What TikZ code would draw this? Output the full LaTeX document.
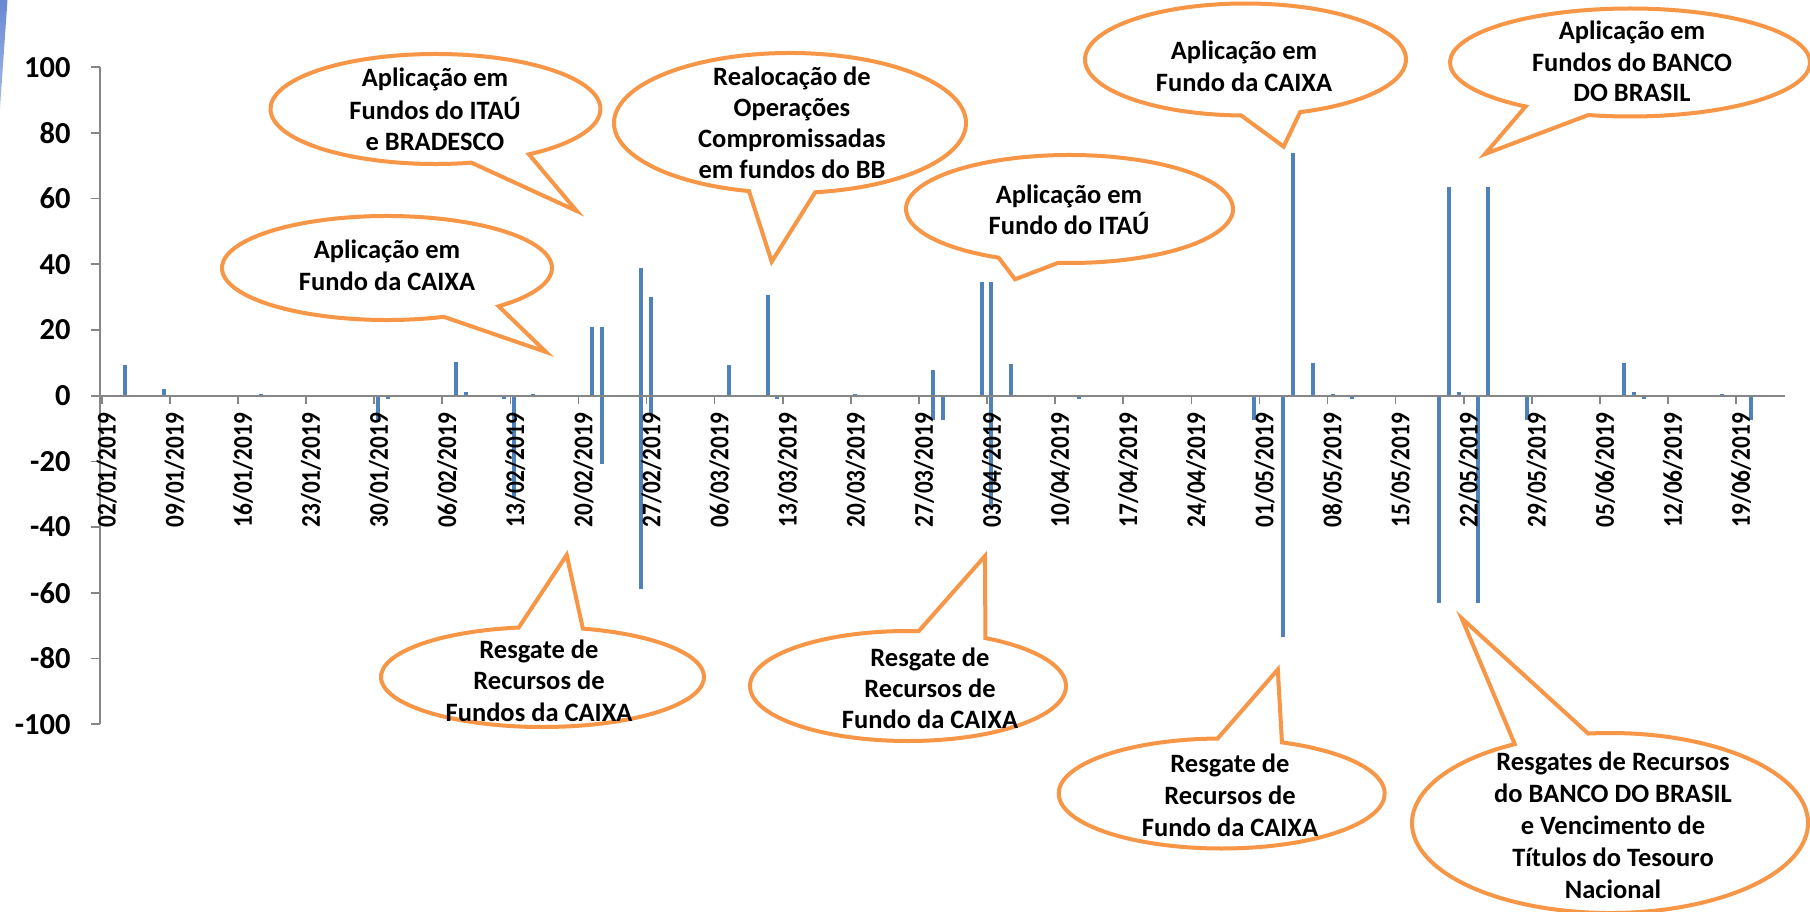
\documentclass[tikz,border=0pt]{standalone}
\usepackage{fontspec}
\setmainfont{Carlito}
\newfontfamily\datefont{Carlito}[FakeStretch=0.86]
\usetikzlibrary{calc}
\definecolor{barblue}{HTML}{4F81BD}
\definecolor{axisgray}{HTML}{868686}
\definecolor{bubbleorange}{HTML}{F79646}
\newcommand{\bubble}[9]{%
  \pgfmathsetmacro\bubA{atan2((#6-#2)/#4,(#5-#1)/#3)}%
  \pgfmathsetmacro\bubB{atan2((#8-#2)/#4,(#7-#1)/#3)}%
  \pgfmathsetmacro\bubD{mod(\bubB-\bubA+720,360)}%
  \pgfmathsetmacro\bubE{\bubD<180 ? \bubA+\bubD-360 : \bubA+\bubD}%
  \draw[bubbleline] ({#1+#3*cos(\bubA)},{#2+#4*sin(\bubA)})
    arc[start angle=\bubA, end angle=\bubE, x radius=#3, y radius=#4] -- #9 -- cycle;
}
\tikzset{
  bubbleline/.style={draw=bubbleorange, fill=white, line width=4pt, line join=miter},
  ctext/.style={anchor=base, inner sep=0pt, font=\bfseries\fontsize{26.5}{32}\selectfont},
  ylab/.style={anchor=east, inner sep=0pt, font=\bfseries\fontsize{30.5}{30.5}\selectfont},
  dlab/.style={anchor=east, rotate=90, inner sep=0pt, font=\datefont\bfseries\fontsize{27}{27}\selectfont},
  axisline/.style={draw=axisgray, line width=1.6pt},
  bar/.style={fill=barblue}
}
\begin{document}
\begin{tikzpicture}[x=1pt,y=-1pt]
\useasboundingbox (0,0) rectangle (1810,912);
\fill[white] (0,0) rectangle (1810,912);
% blue stripe at top left
\shade[top color={rgb,255:red,104;green,136;blue,210}, bottom color={rgb,255:red,165;green,188;blue,232}]
  (0,0) -- (7.5,0) -- (0,108) -- cycle;
% bars
\foreach \x/\v in {105/-0.3, 125.3/9.4, 164/2.1, 251.7/0.3, 261/0.5, 377.7/-8, 387.7/-1,
  455.7/10.4, 466/1, 504.3/-1.1, 514/-31, 533.3/0.5, 592.3/21, 601.7/21, 601.7/-20.8,
  641/38.8, 641/-58.7, 650.7/30, 650.7/-6, 729/9.4, 767.7/30.7, 777.3/-1, 855/0.5,
  933.3/7.7, 933.3/-7.5, 942.7/-7.5, 971.7/-0.3, 981.7/34.5, 991/34.5, 991/-34.5,
  1010.7/9.7, 1079.3/-1, 1127.7/-0.3, 1254.3/-7.5, 1283.3/-73.6, 1293.3/74,
  1312.7/9.9, 1332.7/0.5, 1352.3/-1, 1439.3/-63.2, 1449/63.6, 1459/1, 1478.3/-63.2,
  1488/63.6, 1526.7/-7.5, 1566/0.3, 1576/-0.3, 1624.3/10, 1634/1.2, 1644/-1,
  1721.7/0.5, 1751/-7.5, 1780.7/-0.3}
  \fill[bar] (\x-1.85,395.7) rectangle (\x+1.85,{395.7-3.285*\v});
% axes
\draw[axisline] (100,67.2) -- (100,724.2);
\draw[axisline] (100,395.7) -- (1785,395.7);
\foreach \v [count=\k] in {100,80,...,-100}{
  \draw[axisline] (90.7,{395.7-3.285*\v}) -- (100,{395.7-3.285*\v});
  \node[ylab] (yl\k) at (70.7,{395.7-3.285*\v}) {\v};
}
\foreach \d [count=\i from 0] in {02/01/2019,09/01/2019,16/01/2019,23/01/2019,30/01/2019,
  06/02/2019,13/02/2019,20/02/2019,27/02/2019,06/03/2019,13/03/2019,20/03/2019,
  27/03/2019,03/04/2019,10/04/2019,17/04/2019,24/04/2019,01/05/2019,08/05/2019,
  15/05/2019,22/05/2019,29/05/2019,05/06/2019,12/06/2019,19/06/2019}{
  \draw[axisline] ({101.7+68.1*\i},395.7) -- ({101.7+68.1*\i},403.5);
  \node[dlab] (dl\i) at ({106.7+68.1*\i},413) {\d};
}
% callouts
\bubble{435.5}{109}{165}{55}{471.8}{163.3}{527.8}{153.8}{(576.7,211)}
\bubble{790}{123}{176}{70}{750}{189.3}{815}{191.7}{(771.7,261.7)}
\bubble{387}{268}{165}{52}{441.7}{315}{495}{305}{(546,352)}
\bubble{1069.5}{209}{163.5}{54}{1000}{256.7}{1058.3}{261.7}{(1015,279.3)}
\bubble{1245.5}{59.5}{160.5}{56}{1241}{117.7}{1301}{113}{(1283.6,146.6)}
\bubble{1630}{62.5}{180}{54}{1526.7}{106}{1588.3}{115}{(1485,154)}
\bubble{542.5}{677}{161.5}{50}{519.4}{629}{581.7}{630}{(566.7,555)}
\bubble{908}{686}{158}{55}{918.3}{633.3}{985}{638.3}{(985,556)}
\bubble{1221.7}{793.5}{163}{55}{1217.8}{741}{1283.6}{741}{(1277.8,669.5)}
\bubble{1610}{823}{198}{90}{1515}{744.3}{1588.3}{734}{(1461.7,618.3)}
% callout texts
\node[ctext] (a1) at (435,87) {Aplicação em};
\node[ctext] (a2) at (435,119.5) {Fundos do ITAÚ};
\node[ctext] (a3) at (435,150.5) {e BRADESCO};
\node[ctext] (b1) at (792,86) {Realocação de};
\node[ctext] (b2) at (792,117) {Operações};
\node[ctext] (b3) at (792,148) {Compromissadas};
\node[ctext] (b4) at (792,178.5) {em fundos do BB};
\node[ctext] (c1) at (387,258.7) {Aplicação em};
\node[ctext] (c2) at (387,290.7) {Fundo da CAIXA};
\node[ctext] (d1) at (1069,203.3) {Aplicação em};
\node[ctext] (d2) at (1069,235) {Fundo do ITAÚ};
\node[ctext] (e1) at (1244,60) {Aplicação em};
\node[ctext] (e2) at (1244,91.5) {Fundo da CAIXA};
\node[ctext] (f1) at (1632,40) {Aplicação em};
\node[ctext] (f2) at (1632,71.5) {Fundos do BANCO};
\node[ctext] (f3) at (1632,102) {DO BRASIL};
\node[ctext] (g1) at (539,658) {Resgate de};
\node[ctext] (g2) at (539,689) {Recursos de};
\node[ctext] (g3) at (539,721) {Fundos da CAIXA};
\node[ctext] (h1) at (930,666) {Resgate de};
\node[ctext] (h2) at (930,697) {Recursos de};
\node[ctext] (h3) at (930,728) {Fundo da CAIXA};
\node[ctext] (i1) at (1230,772) {Resgate de};
\node[ctext] (i2) at (1230,804) {Recursos de};
\node[ctext] (i3) at (1230,836) {Fundo da CAIXA};
\node[ctext] (j1) at (1613,770) {Resgates de Recursos};
\node[ctext] (j2) at (1613,802) {do BANCO DO BRASIL};
\node[ctext] (j3) at (1613,834) {e Vencimento de};
\node[ctext] (j4) at (1613,866) {Títulos do Tesouro};
\node[ctext] (j5) at (1613,898) {Nacional};
\end{tikzpicture}
\end{document}
